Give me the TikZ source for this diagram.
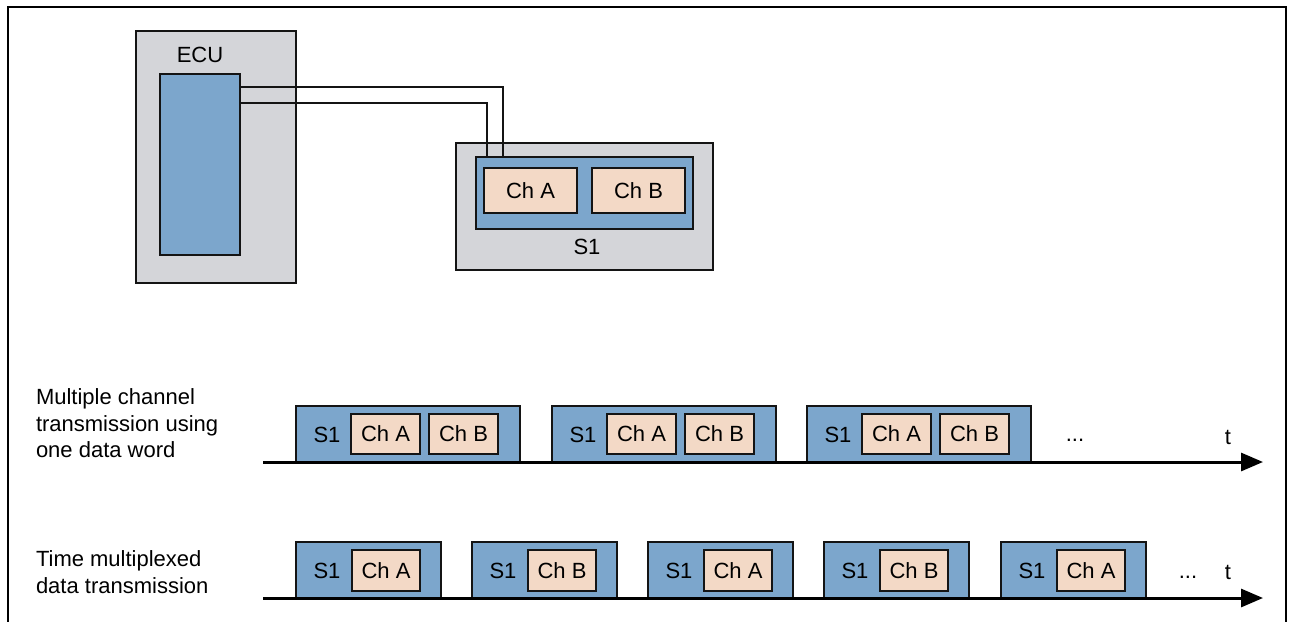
\documentclass[tikz,border=0pt]{standalone}
\usepackage{fontspec}
\setmainfont{Liberation Sans}
\usetikzlibrary{arrows.meta}
\definecolor{boxgray}{RGB}{212,213,217}
\definecolor{boxblue}{RGB}{124,166,204}
\definecolor{chpeach}{RGB}{243,217,198}
\definecolor{linec}{RGB}{20,20,20}
\begin{document}
\begin{tikzpicture}[x=1pt,y=-1pt,
  font=\fontsize{22}{26.5}\selectfont,
  every node/.style={inner sep=0pt, outer sep=0pt},
  graybox/.style={draw=linec, line width=1.6pt, fill=boxgray, anchor=north west},
  bluebox/.style={draw=linec, line width=1.6pt, fill=boxblue, anchor=north west},
  chbox/.style={draw=linec, line width=1.6pt, fill=chpeach, anchor=north west},
  wire/.style={draw=linec, line width=1.8pt},
  axis/.style={draw=black, line width=3pt, -{Triangle[length=22pt,width=18pt]}},
  lbl/.style={align=left, anchor=north west}
]
\useasboundingbox (0,0) rectangle (1292,621);
% outer frame
\coordinate (fbl) at (8,630);
\coordinate (ftl) at (8,7);
\coordinate (ftr) at (1286,7);
\coordinate (fbr) at (1286,630);
\draw[line width=2.2pt, black] (fbl) -- (ftl) -- (ftr) -- (fbr);

% ECU
\node[graybox, minimum width=160pt, minimum height=252pt] (ecu) at (136,31) {};
\node (ecul) at (200,55) {ECU};
\node[bluebox, minimum width=80pt, minimum height=181pt] (ecub) at (160,74) {};

% S1 sensor
\node[graybox, minimum width=257pt, minimum height=127pt] (s1) at (456,143) {};
\node[bluebox, minimum width=217pt, minimum height=72pt] (s1b) at (476,157) {};
\node[chbox, minimum width=93pt, minimum height=45pt] (cha) at (484,168) {Ch A};
\node[chbox, minimum width=93pt, minimum height=45pt] (chb) at (592,168) {Ch B};
\node (s1l) at (587,247) {S1};

% wires
\draw[wire] ([yshift=-13pt]ecub.north east) -| ([xshift=27pt]s1b.north west);
\draw[wire] ([yshift=-29pt]ecub.north east) -| ([xshift=11pt]s1b.north west);

% Row 1
\node[lbl] (lab1) at (36,389) {Multiple channel\\transmission using\\one data word};
\foreach \x [count=\i] in {296,552,807}{
  \node[bluebox, minimum width=224pt, minimum height=56pt] (r1f\i) at (\x,406) {};
  \node (r1s\i) at (\x+31,435) {S1};
  \node[chbox, minimum width=69pt, minimum height=40pt] (r1a\i) at (\x+55,414) {Ch A};
  \node[chbox, minimum width=69pt, minimum height=40pt] (r1b\i) at (\x+133,414) {Ch B};
}
\coordinate (a1s) at (263,462);
\coordinate (a1e) at (1263,462);
\draw[axis] (a1s) -- (a1e);
\node (dots1) at (1075,440) {...};
\node (t1) at (1228,437) {t};

% Row 2
\node[lbl] (lab2) at (36,551) {Time multiplexed\\data transmission};
\foreach \x/\c [count=\i] in {296/A,472/B,648/A,824/B,1001/A}{
  \node[bluebox, minimum width=145pt, minimum height=56pt] (r2f\i) at (\x,542) {};
  \node (r2s\i) at (\x+31,571) {S1};
  \node[chbox, minimum width=68pt, minimum height=41pt] (r2c\i) at (\x+56,550) {Ch \c};
}
\coordinate (a2s) at (263,598);
\coordinate (a2e) at (1263,598);
\draw[axis] (a2s) -- (a2e);
\node (dots2) at (1188,577) {...};
\node (t2) at (1228,572) {t};
\end{tikzpicture}
\end{document}
